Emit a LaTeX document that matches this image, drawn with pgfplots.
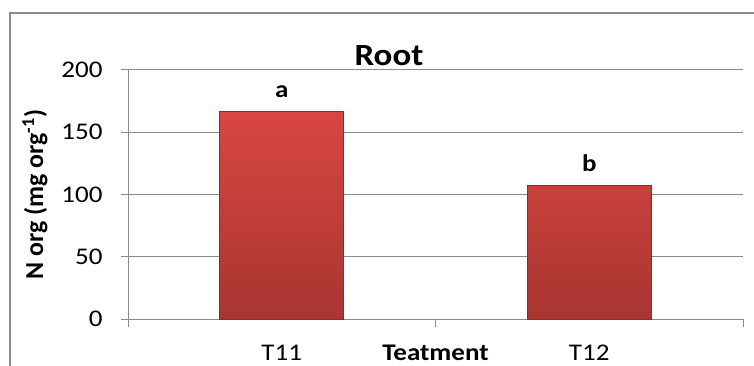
\documentclass[border=0pt]{standalone}
\usepackage{pgfplots}
\pgfplotsset{compat=1.18}
\usepackage{fontspec}
\setmainfont[FakeStretch=1.13]{Carlito}
\newfontfamily\ylfont{Carlito}
\definecolor{bartop}{HTML}{D84642}
\definecolor{barbot}{HTML}{A93531}
\definecolor{baredge}{HTML}{8E2B28}
\definecolor{gridc}{HTML}{8C8C8C}
\begin{document}
\begin{tikzpicture}[x=1bp,y=1bp]
\useasboundingbox (0,0) rectangle (754,365);
\clip (0,0) rectangle (754,365);
\draw[gridc, line width=1.2bp] (10,-5) -- (10,352) -- (770,352);
\begin{axis}[
  at={(128bp,46bp)}, anchor=south west,
  scale only axis, width=615bp, height=249bp,
  xmin=-0.5, xmax=1.5, ymin=0, ymax=200,
  axis x line*=bottom, axis y line*=left,
  axis line style={gridc, line width=1bp},
  ytick={0,50,100,150,200},
  ymajorgrids, grid style={gridc, line width=1bp},
  xtick={0,1}, xticklabels={T11,T12},
  major x tick style={draw=none},
  minor xtick={-0.5,0.5,1.5},
  minor tick length=8bp, major tick length=7bp,
  tick align=outside,
  tick style={gridc, line width=1bp},
  ticklabel style={font=\fontsize{24}{28}\selectfont},
  xticklabel style={anchor=base, yshift=-34bp},
  yticklabel style={xshift=-15bp},
  /pgf/number format/assume math mode=true,
  xlabel={\textbf{Teatment}},
  xlabel style={font=\fontsize{24}{28}\selectfont, at={(axis description cs:0.5,0)}, anchor=base, yshift=-41bp},
  ylabel={\textbf{N org (mg org\textsuperscript{-1})}},
  ylabel style={font=\ylfont\fontsize{26}{30}\selectfont, at={(axis description cs:0,0.5)}, anchor=center, yshift=93bp},
  ybar, bar width=124bp,
  nodes near coords, point meta=explicit symbolic,
  every node near coord/.append style={font=\bfseries\fontsize{24}{28}\selectfont, anchor=base, yshift=14bp, text=black},
  clip=false,
]
\addplot[ybar, top color=bartop, bottom color=barbot, draw=baredge, line width=0.8bp]
  coordinates {(0,167) [a] (1,107) [b]};
\end{axis}
\node[font=\bfseries\fontsize{31}{36}\selectfont, anchor=base] at (389,300) {Root};
\end{tikzpicture}
\end{document}
